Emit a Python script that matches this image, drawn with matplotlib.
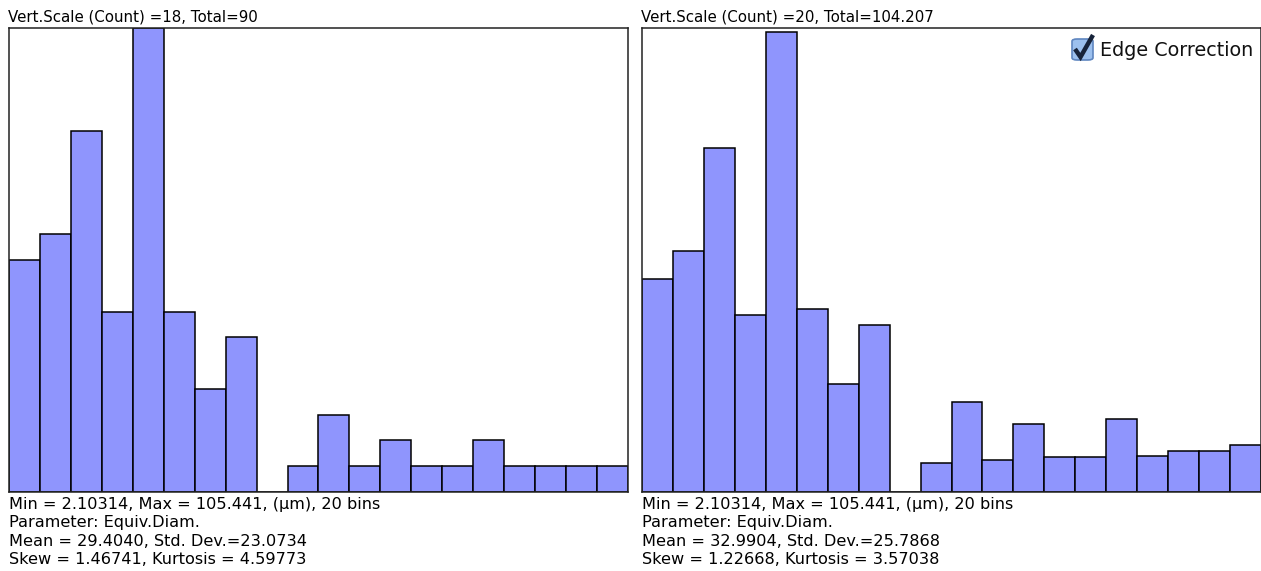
import numpy as np
import matplotlib
matplotlib.use("Agg")
import matplotlib.pyplot as plt
from matplotlib.patches import FancyBboxPatch
from matplotlib.lines import Line2D

# ---- data ----
d_min, d_max, n_bins = 2.10314, 105.441, 20
counts_left = [9, 10, 14, 7, 18, 7, 4, 6, 0, 1, 3, 1, 2, 1, 1, 2, 1, 1, 1, 1]
counts_right = [9.18, 10.37, 14.83, 7.64, 19.81, 7.90, 4.66, 7.18, 0, 1.25,
                3.90, 1.37, 2.91, 1.50, 1.50, 3.16, 1.57, 1.77, 1.77, 2.03]
vscale_left, vscale_right = 18, 20
titles = ["Vert.Scale (Count) =18, Total=90",
          "Vert.Scale (Count) =20, Total=104.207"]
stats_left = ["Min = 2.10314, Max = 105.441, (\u00b5m), 20 bins",
              "Parameter: Equiv.Diam.",
              "Mean = 29.4040, Std. Dev.=23.0734",
              "Skew = 1.46741, Kurtosis = 4.59773"]
stats_right = ["Min = 2.10314, Max = 105.441, (\u00b5m), 20 bins",
               "Parameter: Equiv.Diam.",
               "Mean = 32.9904, Std. Dev.=25.7868",
               "Skew = 1.22668, Kurtosis = 3.57038"]

W, H = 1261, 571
fig = plt.figure(figsize=(W / 100, H / 100), dpi=100)
bar_color = "#8f95fd"

edges = np.linspace(d_min, d_max, n_bins + 1)
width = edges[1] - edges[0]

panels = [
    (9, counts_left, vscale_left, titles[0], stats_left),
    (642, counts_right, vscale_right, titles[1], stats_right),
]
ax_w = 619
top_px, bot_px = 28, 492

for x0, counts, vs, title, stats in panels:
    ax = fig.add_axes([x0 / W, (H - bot_px) / H, ax_w / W, (bot_px - top_px) / H])
    ax.bar(edges[:-1], counts, width=width, align="edge", color=bar_color,
           edgecolor="black", linewidth=1.1)
    ax.set_xlim(d_min, d_max)
    ax.set_ylim(0, vs)
    ax.set_xticks([])
    ax.set_yticks([])
    for s in ax.spines.values():
        s.set_linewidth(1.1)
        s.set_color("#222222")
    fig.text((x0 - 1) / W, 1 - 22 / H, title, fontsize=10.8, ha="left",
             va="baseline", family="DejaVu Sans")
    for i, line in enumerate(stats):
        fig.text(x0 / W, 1 - (509 + i * 18.5) / H, line, fontsize=11.6,
                 ha="left", va="baseline", family="DejaVu Sans")

# Edge Correction checkbox
bx, by, bs = 1072, 39, 21
box = FancyBboxPatch((bx / W, 1 - (by + bs) / H), bs / W, bs / H,
                     boxstyle="round,pad=0,rounding_size=0.004",
                     transform=fig.transFigure, facecolor="#9cc0ee",
                     edgecolor="#5f86c0", linewidth=1.2)
fig.patches.append(box)
chk_x = [1075 / W, 1080.5 / W, 1093 / W]
chk_y = [1 - 49 / H, 1 - 57 / H, 1 - 35 / H]
fig.lines.append(Line2D(chk_x, chk_y, transform=fig.transFigure,
                        color="#17233a", linewidth=3.2,
                        solid_joinstyle="miter", solid_capstyle="butt"))
fig.text(1100 / W, 1 - 56 / H, "Edge Correction", fontsize=13.8,
         ha="left", va="baseline", family="DejaVu Sans", color="#111111")

fig.savefig("out.png", dpi=100)
